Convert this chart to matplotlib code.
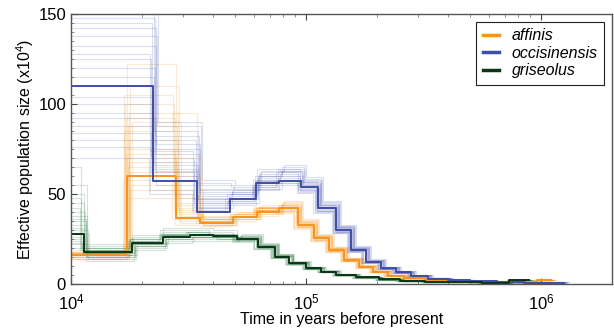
import matplotlib
matplotlib.use("Agg")
import matplotlib.pyplot as plt
from matplotlib.ticker import MultipleLocator, LogLocator, NullFormatter

plt.rcParams['font.family'] = ['Liberation Sans', 'DejaVu Sans']
plt.rcParams['mathtext.default'] = 'regular'

# ---- data (Ne in units of 10^4, time in years) ----
species = ['affinis', 'occisinensis', 'griseolus']
colors = ['#F7941D', '#3F4EA6', '#0B3516']
boot_colors = ['#F7941D', '#5461B0', '#2F7A48']

aff_t = [9.0e3, 17.3e3, 28.0e3, 35.3e3, 48.8e3, 62e3, 77e3, 92e3, 108e3, 125e3, 145e3,
         168e3, 192e3, 222e3, 260e3, 320e3, 400e3, 520e3, 700e3, 9.6e5, 1.1e6]
aff_ne = [16, 60, 36.5, 34, 37, 40, 42, 32.8, 25.4, 18.9, 13.3,
          9.6, 6.9, 4.5, 3.2, 2.2, 1.6, 1.3, 1.1, 2.2]

occ_t = [9.0e3, 22.3e3, 34.2e3, 47.3e3, 61.3e3, 77e3, 95e3, 112e3, 134e3, 155e3, 179e3,
         208e3, 241e3, 280e3, 330e3, 400e3, 500e3, 650e3, 850e3, 1.0e6, 1.25e6]
occ_ne = [110, 57, 40, 47, 56, 57, 54, 42, 30, 19, 12.4,
          8.7, 6.5, 4.5, 3.0, 2.0, 1.4, 1.0, 0.8, 0.8]

gri_t = [9.0e3, 11.35e3, 18.2e3, 24.6e3, 32e3, 40e3, 50.6e3, 62.2e3, 73.4e3, 85e3, 100e3,
         116e3, 134e3, 163e3, 205e3, 250e3, 320e3, 420e3, 560e3, 730e3, 8.9e5]
gri_ne = [28, 18, 23, 26, 27, 26.5, 25, 20.7, 15.2, 11.5, 8.7,
          6.9, 5.0, 3.7, 2.5, 1.7, 1.2, 0.9, 0.7, 2.0]

# bootstrap replicates: first six steps read individually, later steps as a factor of the main curve
aff_boot_early = [
    [15, 95, 48, 36, 39, 42], [17, 75, 40, 35, 38, 41], [14, 122, 60, 38, 40, 43],
    [18, 55, 34, 33, 36, 39], [16, 85, 95, 37, 39, 42], [15, 65, 42, 34, 37, 41],
    [19, 110, 52, 36, 38, 40], [14, 48, 33, 32, 35, 38], [17, 70, 45, 35, 38, 42],
    [16, 90, 38, 36, 40, 44], [18, 58, 36, 34, 37, 41], [15, 80, 70, 37, 39, 43],
    [17, 100, 50, 35, 38, 41], [16, 62, 39, 33, 36, 40],
    [16, 72, 44, 35, 38, 42], [15, 88, 37, 34, 37, 40], [18, 52, 35, 33, 36, 39],
    [17, 105, 62, 36, 39, 43], [14, 68, 41, 34, 37, 41], [16, 92, 48, 36, 38, 42]]
occ_boot_early = [
    [148, 82, 52, 50, 60, 62], [125, 70, 45, 48, 55, 58], [95, 60, 42, 44, 52, 56],
    [138, 88, 55, 52, 62, 64], [76, 52, 40, 46, 54, 56], [115, 66, 47, 49, 58, 61],
    [132, 75, 50, 53, 60, 63], [88, 58, 44, 45, 53, 55], [104, 64, 46, 50, 57, 59],
    [160, 90, 58, 55, 63, 66], [70, 50, 41, 47, 55, 57], [120, 72, 48, 51, 59, 60],
    [84, 62, 43, 46, 54, 58], [142, 78, 53, 52, 61, 65],
    [100, 68, 49, 48, 57, 60], [152, 85, 56, 54, 64, 63], [80, 55, 42, 45, 53, 57],
    [128, 74, 47, 50, 58, 62], [92, 63, 45, 47, 56, 58], [145, 80, 51, 51, 60, 64]]
gri_boot_early = [
    [35, 16, 21, 25, 26, 26], [22, 20, 25, 28, 29, 28], [45, 17, 22, 27, 27, 27],
    [30, 14, 20, 24, 25, 25], [65, 19, 24, 30, 30, 29], [25, 21, 26, 27, 28, 27],
    [38, 15, 21, 25, 26, 26], [20, 18, 23, 29, 28, 28], [50, 22, 27, 31, 31, 30],
    [28, 16, 22, 26, 26, 25], [42, 19, 24, 28, 29, 27], [33, 13, 19, 23, 24, 24],
    [24, 20, 25, 27, 27, 27], [55, 17, 23, 26, 28, 26],
    [31, 17, 22, 26, 27, 26], [40, 19, 24, 28, 28, 28], [26, 15, 21, 25, 26, 25],
    [48, 20, 25, 27, 29, 27], [36, 18, 23, 27, 27, 26], [23, 16, 22, 26, 26, 26]]
boot_tail = [1.05, 1.0, 0.97, 1.08, 0.95, 1.02, 1.06, 0.96, 1.0, 1.1, 0.94, 1.03, 0.98, 1.07,
             1.01, 0.99, 1.04, 0.97, 1.02, 1.05]
boot_shift = [1.02, 0.98, 1.0, 1.04, 0.97, 1.01, 1.03, 0.99, 1.0, 1.05, 0.96, 1.02, 0.98, 1.03,
              0.99, 1.01, 1.03, 0.97, 1.02, 0.99]

fig = plt.figure(figsize=(6.14, 3.31), dpi=100)
ax = fig.add_axes([0.1156, 0.142, 0.8811, 0.8157])

all_t = [aff_t, occ_t, gri_t]
all_ne = [aff_ne, occ_ne, gri_ne]
all_boot = [aff_boot_early, occ_boot_early, gri_boot_early]

# bootstraps first
for t, ne, boots, bc in zip(all_t, all_ne, all_boot, boot_colors):
    for early, tail, shift in zip(boots, boot_tail, boot_shift):
        vals = early + [v * tail for v in ne[len(early):]]
        ax.step([x * shift for x in t], vals + [vals[-1]], where='post',
                color=bc, lw=0.8, alpha=0.2)

for t, ne, c, name in zip(all_t, all_ne, colors, species):
    ax.step(t, ne + [ne[-1]], where='post', color=c, lw=1.4, label=name)

ax.set_xscale('log')
ax.set_xlim(1e4, 2e6)
ax.set_ylim(0, 150)
ax.yaxis.set_major_locator(MultipleLocator(50))
ax.yaxis.set_minor_locator(MultipleLocator(5))
ax.xaxis.set_minor_locator(LogLocator(base=10, subs=range(2, 10)))
ax.xaxis.set_minor_formatter(NullFormatter())
ax.tick_params(direction='in', top=True, right=False, labelsize=12, length=4, width=0.8, color='#444444')
ax.tick_params(axis='x', pad=6)
ax.tick_params(which='minor', direction='in', top=True, right=False, length=2.5, width=0.6, color='#777777')
for s in ax.spines.values():
    s.set_color('#555555')
    s.set_linewidth(1.0)

ax.set_xlabel('Time in years before present', fontsize=11.5, labelpad=0)
ax.set_ylabel('Effective population size (x10$^4$)', fontsize=11.5, labelpad=2)

leg = ax.legend(loc='upper right', handlelength=1.0, handletextpad=0.8,
                borderaxespad=0.5, labelspacing=0.15, fancybox=False, framealpha=1,
                prop={'style': 'italic', 'size': 11.5})
leg.get_frame().set_edgecolor('#222222')
leg.get_frame().set_linewidth(0.8)
for l in leg.get_lines():
    l.set_linewidth(2.5)

fig.savefig('out.png', dpi=100)
